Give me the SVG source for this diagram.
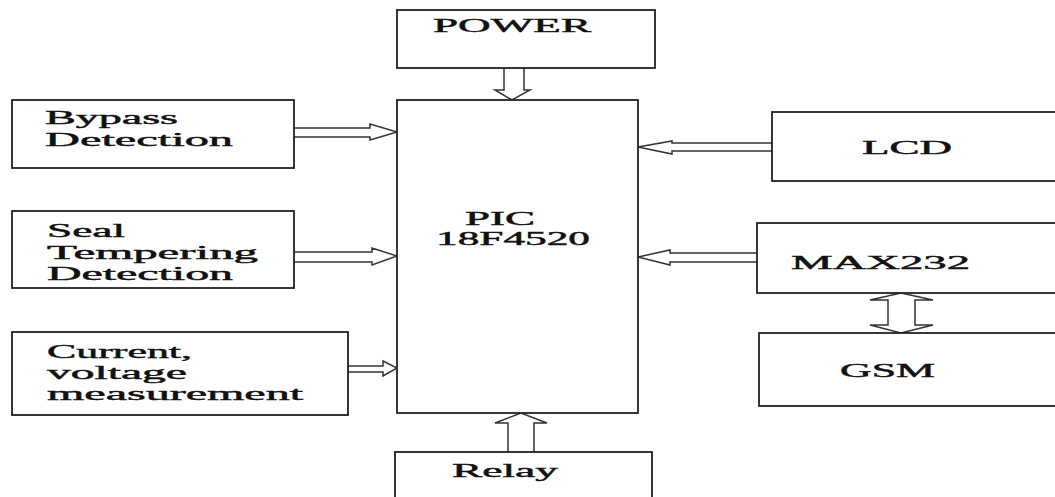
<svg xmlns="http://www.w3.org/2000/svg" width="1055" height="497" viewBox="0 0 1055 497">
<style>
.box{fill:#fff;stroke:#222;stroke-width:1.8}
.arr{fill:#fff;stroke:#333;stroke-width:1.5;stroke-linejoin:miter}
.t{font-family:"Liberation Serif","Times New Roman",serif;font-size:19px;fill:#111;stroke:#111;stroke-width:0.45}
</style>
<rect width="1055" height="497" fill="#fff"/>
<g id="connectors">
<path class="arr" d="M504,68 L504,90 L495,90 L512,100 L530,90 L524,90 L524,68"/>
<path class="arr" d="M294,128 L370,128 L370,124 L397,132 L370,140 L370,137 L294,137"/>
<path class="arr" d="M294,252 L372,252 L372,248 L397,256 L372,265 L372,262 L294,262"/>
<path class="arr" d="M348,366 L383,366 L383,361 L397,368 L383,376 L383,372 L348,372"/>
<path class="arr" d="M508,452 L508,423 L495,423 L521,413 L547,423 L534,423 L534,452"/>
<path class="arr" d="M772,143 L672,143 L672,141 L638,147 L672,154 L672,151 L772,151"/>
<path class="arr" d="M757,253 L670,253 L670,250 L638,257 L670,265 L670,262 L757,262"/>
<path class="arr" d="M901,293 L933,300 L915,300 L915,325 L933,325 L901,333 L870,325 L888,325 L888,300 L870,300 Z"/>
</g>
<g id="power">
<rect class="box" x="397" y="10" width="258" height="58"/>
<text class="t" x="433" y="32" font-size="16" textLength="158" lengthAdjust="spacingAndGlyphs">POWER</text>
</g>
<g id="pic">
<rect class="box" x="397" y="100" width="241" height="313"/>
<text class="t" x="465" y="225" textLength="70" lengthAdjust="spacingAndGlyphs">PIC</text>
<text class="t" x="436" y="245" textLength="154" lengthAdjust="spacingAndGlyphs">18F4520</text>
</g>
<g id="bypass">
<rect class="box" x="12" y="100" width="282" height="68"/>
<text class="t" x="45" y="124" textLength="133" lengthAdjust="spacingAndGlyphs">Bypass</text>
<text class="t" x="45" y="146" textLength="188" lengthAdjust="spacingAndGlyphs">Detection</text>
</g>
<g id="seal">
<rect class="box" x="12" y="211" width="282" height="77"/>
<text class="t" x="47" y="237" textLength="78" lengthAdjust="spacingAndGlyphs">Seal</text>
<text class="t" x="47" y="259" textLength="211" lengthAdjust="spacingAndGlyphs">Tempering</text>
<text class="t" x="47" y="280" textLength="186" lengthAdjust="spacingAndGlyphs">Detection</text>
</g>
<g id="current">
<rect class="box" x="12" y="332" width="336" height="83"/>
<text class="t" x="47" y="358" textLength="145" lengthAdjust="spacingAndGlyphs">Current,</text>
<text class="t" x="47" y="379" textLength="140" lengthAdjust="spacingAndGlyphs">voltage</text>
<text class="t" x="47" y="400" textLength="256" lengthAdjust="spacingAndGlyphs">measurement</text>
</g>
<g id="relay">
<rect class="box" x="395" y="452" width="257" height="60"/>
<text class="t" x="452" y="477" textLength="106" lengthAdjust="spacingAndGlyphs">Relay</text>
</g>
<g id="lcd">
<rect class="box" x="772" y="112" width="300" height="69"/>
<text class="t" x="862" y="154" textLength="90" lengthAdjust="spacingAndGlyphs">LCD</text>
</g>
<g id="max232">
<rect class="box" x="757" y="223" width="310" height="70"/>
<text class="t" x="791" y="269" textLength="179" lengthAdjust="spacingAndGlyphs">MAX232</text>
</g>
<g id="gsm">
<rect class="box" x="759" y="333" width="310" height="73"/>
<text class="t" x="840" y="377" textLength="95" lengthAdjust="spacingAndGlyphs">GSM</text>
</g>
</svg>
